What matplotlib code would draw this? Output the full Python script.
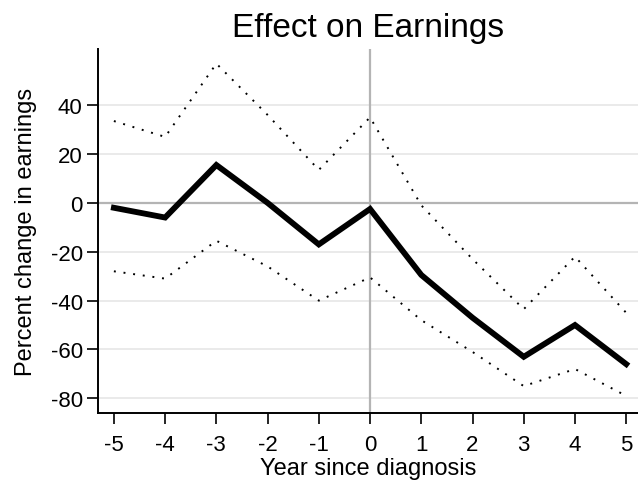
import matplotlib
matplotlib.use("Agg")
import matplotlib.pyplot as plt

plt.rcParams['font.family'] = ['Liberation Sans', 'DejaVu Sans']
plt.rcParams['axes.unicode_minus'] = False

years = [-5, -4, -3, -2, -1, 0, 1, 2, 3, 4, 5]
effect = [-2, -6, 15.5, 0, -17, -2.5, -29.5, -47, -63, -50, -66]
upper = [33.5, 27, 57, 36, 13.5, 35, -1, -23, -43.5, -22, -45]
lower = [-28, -31, -15.5, -26, -40, -30.5, -48, -61, -75, -68, -79]

fig = plt.figure(figsize=(6.38, 4.85), dpi=100)
ax = fig.add_axes([0.1536, 0.1464, 0.8464, 0.7506])

# light grid, darker reference lines at zero
for yv in [40, 20, -20, -40, -60, -80]:
    ax.axhline(yv, color='#e6e6e6', lw=1.2, zorder=0)
ax.axhline(0, color='#b4b4b4', lw=1.6, zorder=1)
ax.axvline(0, color='#b4b4b4', lw=1.6, zorder=1)

ax.plot(years, upper, color='black', lw=1.4, linestyle=(0, (1, 4)), zorder=2)
ax.plot(years, lower, color='black', lw=1.4, linestyle=(0, (1, 4)), zorder=2)
ax.plot(years, effect, color='black', lw=4.2, solid_joinstyle='miter', zorder=3)

ax.set_xlim(-5.31, 5.23)
ax.set_ylim(-86, 63)
ax.set_xticks(years)
ax.set_yticks([40, 20, 0, -20, -40, -60, -80])
ax.tick_params(axis='both', direction='out', length=8, width=1.2, labelsize=16, pad=3, colors='black')
ax.tick_params(axis='x', pad=7)
for s in ['top', 'right']:
    ax.spines[s].set_visible(False)
for s in ['left', 'bottom']:
    ax.spines[s].set_linewidth(1.4)

ax.set_title('Effect on Earnings', fontsize=24, pad=9)
ax.set_xlabel('Year since diagnosis', fontsize=17, va='center')
ax.xaxis.set_label_coords(0.5, -0.152)
ax.set_ylabel('Percent change in earnings', fontsize=17, labelpad=10)

fig.savefig('out.png', dpi=100)
